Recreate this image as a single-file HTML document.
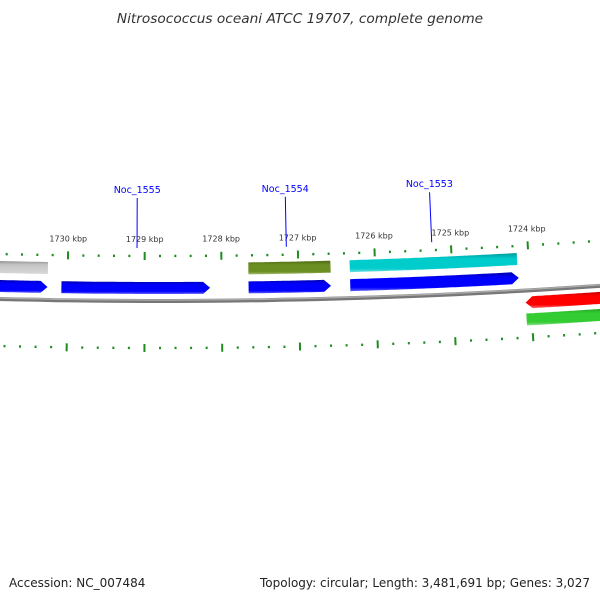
<!DOCTYPE html>
<html><head><meta charset="utf-8"><style>
html,body{margin:0;padding:0;background:#fff;}
svg{display:block;font-family:"DejaVu Sans","Liberation Sans",sans-serif;}
</style></head><body>
<svg id="map" width="600" height="600" viewBox="0 0 600 600" xmlns="http://www.w3.org/2000/svg">
<defs>
<linearGradient id="gBlue" x1="0" y1="0" x2="0" y2="1"><stop offset="0" stop-color="#0000b0"/><stop offset="0.3" stop-color="#0000ff"/><stop offset="0.8" stop-color="#0000ff"/><stop offset="1" stop-color="#6060ff"/></linearGradient>
<linearGradient id="gGray" x1="0" y1="0" x2="0" y2="1"><stop offset="0" stop-color="#909090"/><stop offset="0.3" stop-color="#c4c4c4"/><stop offset="1" stop-color="#d8d8d8"/></linearGradient>
<linearGradient id="gOlive" x1="0" y1="0" x2="0" y2="1"><stop offset="0" stop-color="#4d6a14"/><stop offset="0.3" stop-color="#6b8e23"/><stop offset="0.8" stop-color="#6b8e23"/><stop offset="1" stop-color="#a8bd70"/></linearGradient>
<linearGradient id="gCyan" x1="0" y1="0" x2="0" y2="1"><stop offset="0" stop-color="#009999"/><stop offset="0.3" stop-color="#00cccc"/><stop offset="0.8" stop-color="#00cccc"/><stop offset="1" stop-color="#70e0e0"/></linearGradient>
<linearGradient id="gRed" x1="0" y1="0" x2="0" y2="1"><stop offset="0" stop-color="#b00000"/><stop offset="0.3" stop-color="#ff0000"/><stop offset="0.8" stop-color="#ff0000"/><stop offset="1" stop-color="#ff7070"/></linearGradient>
<linearGradient id="gGreen" x1="0" y1="0" x2="0" y2="1"><stop offset="0" stop-color="#229922"/><stop offset="0.3" stop-color="#33cc33"/><stop offset="0.8" stop-color="#33cc33"/><stop offset="1" stop-color="#90e090"/></linearGradient>
</defs>
<text x="300" y="23" text-anchor="middle" font-size="13.7" font-style="italic" fill="#333">Nitrosococcus oceani ATCC 19707, complete genome</text>
<text x="9" y="587" font-size="12" fill="#222">Accession: NC_007484</text>
<text x="260" y="587" font-size="12" fill="#222" textLength="330" lengthAdjust="spacingAndGlyphs">Topology: circular; Length: 3,481,691 bp; Genes: 3,027</text>
<g id="layer"></g>
</svg>
<script>
// Data (kbp positions)
const geneStarts = [1730.26, 1728.15, 1726.58, 1724.14, 1730.26, 1726.58, 1724.15, 1722.9, 1722.9];
const geneEnds   = [1731.0, 1730.08, 1727.65, 1726.33, 1731.0, 1727.65, 1726.33, 1724.07, 1724.07];
const geneTracks = ["fwd", "fwd", "fwd", "fwd", "band", "band", "band", "rev", "revBand"];
const geneColors = ["gBlue","gBlue","gBlue","gBlue","gGray","gOlive","gCyan","gRed","gGreen"];
const geneArrows = [true,true,true,true,false,false,false,true,false];
const tickLabels = ["1724 kbp","1725 kbp","1726 kbp","1727 kbp","1728 kbp","1729 kbp","1730 kbp"];
const tickValues = [1724,1725,1726,1727,1728,1729,1730];
const locusNames = ["Noc_1555","Noc_1554","Noc_1553"];
const locusPos   = [1729.1, 1727.15, 1725.25];

const NS="http://www.w3.org/2000/svg";
const R=6400, X0=160, P0=1728.8, K=77.2, CY=301-R;
function pt(p,r){const phi=(P0-p)*K/R;return [X0+r*Math.sin(phi), CY+r*Math.cos(phi)];}
const layer=document.getElementById('layer');
function mk(tag,attrs){const el=document.createElementNS(NS,tag);for(const k in attrs)el.setAttribute(k,attrs[k]);layer.appendChild(el);return el;}
function arcPts(p1,p2,r){const a=[];const n=40;for(let i=0;i<=n;i++){a.push(pt(p1+(p2-p1)*i/n,r));}return a;}
// backbone
{const a=arcPts(1722.5,1731.5,R);const d="M"+a.map(q=>q[0].toFixed(1)+","+q[1].toFixed(1)).join(" L");
const b=mk('path',{d:d,fill:'none',stroke:'#777',"stroke-width":4});


const b2=mk('path',{d:d,fill:'none',stroke:'#aaa',"stroke-width":1.5,transform:'translate(0,-1)'});

}
// ticks
const rIn=R-45, rOut=R+47;
for(let i=0;i<=45;i++){const p=1722.6+i*0.2;const major=Math.abs(p-Math.round(p))<0.01;
 [rIn,rOut].forEach((rr)=>{const h=major?4:1.2;const a=pt(p,rr-h),b=pt(p,rr+h);
  const l=mk('line',{x1:a[0],y1:a[1],x2:b[0],y2:b[1],stroke:'#1f8c1f',"stroke-width":2});
  
  });}
tickValues.forEach((v,i)=>{const a=pt(v,R-63);const t=mk('text',{x:a[0],y:a[1]+4,"text-anchor":"middle","font-size":8,fill:'#333'});t.textContent=tickLabels[i];
 
 });
// genes
const trackR={fwd:R-13,band:R-32,rev:R+12,revBand:R+29};
const AH=0.09;
geneStarts.forEach((s,i)=>{const tr=geneTracks[i];const rc=trackR[tr],h=6;
 const mn=Math.min(s,geneEnds[i]),mx=Math.max(s,geneEnds[i]);
 let all;const arrow=geneArrows[i];
 if(arrow&&tr==="fwd"){all=arcPts(mx,mn+AH,rc-h).concat([pt(mn,rc)],arcPts(mn+AH,mx,rc+h));}
 else if(arrow&&tr==="rev"){all=arcPts(mn,mx-AH,rc-h).concat([pt(mx,rc)],arcPts(mx-AH,mn,rc+h));}
 else {all=arcPts(mn,mx,rc-h).concat(arcPts(mx,mn,rc+h));}
 const pg=mk('polygon',{points:all.map(q=>q[0].toFixed(1)+","+q[1].toFixed(1)).join(" "),fill:'url(#'+geneColors[i]+')'});
 
 });
// locus labels
locusNames.forEach((n,i)=>{const a=pt(locusPos[i],R-53),b=pt(locusPos[i],R-103),c=pt(locusPos[i],R-108);
 const l=mk('line',{x1:a[0],y1:a[1],x2:b[0],y2:b[1],stroke:'#0000ff',"stroke-width":1});
 
 
 const t=mk('text',{x:c[0],y:c[1],"text-anchor":"middle","font-size":9.5,fill:'#0000ff'});t.textContent=n;
 
 });
</script>
</body></html>
